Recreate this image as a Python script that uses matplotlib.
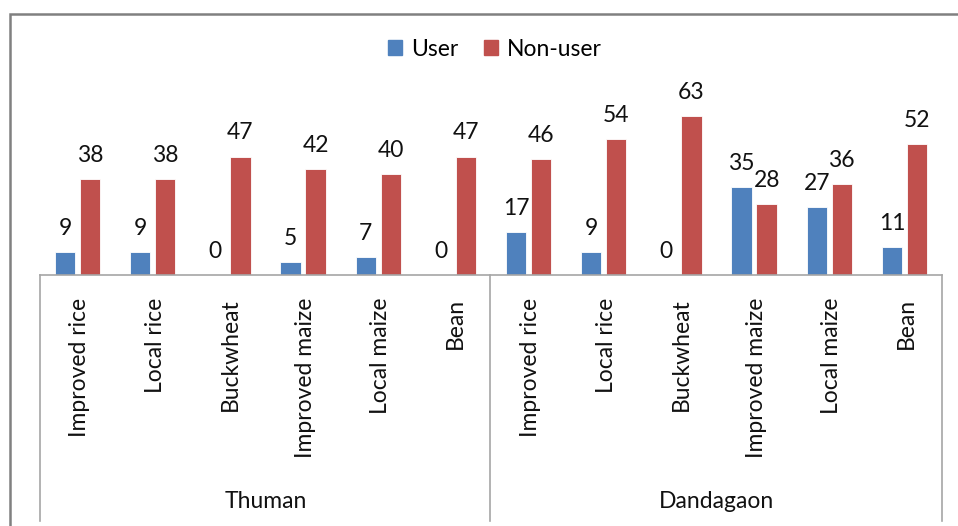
import numpy as np
import matplotlib.pyplot as plt
import matplotlib.transforms as mtransforms
from matplotlib.lines import Line2D
from matplotlib.patches import Rectangle, Patch

# data
villages = ["Thuman", "Dandagaon"]
crops = ["Improved rice", "Local rice", "Buckwheat", "Improved maize", "Local maize", "Bean"]
user = [9, 9, 0, 5, 7, 0, 17, 9, 0, 35, 27, 11]
non_user = [38, 38, 47, 42, 40, 47, 46, 54, 63, 28, 36, 52]

BLUE = "#4F81BD"
RED = "#C0504D"
FS = 16.5
TXT = "#111111"

W, H = 958, 526
plt.rcParams['font.family'] = ["Lato", "DejaVu Sans"]

fig = plt.figure(figsize=(W / 100, H / 100), dpi=100)


def fx(px):
    return px / W


def fy(py):
    return 1 - py / H


# plot area in pixels
left, right, base = 40, 942, 275
ymax = 70
ppu = 2.52
top = base - ymax * ppu
ax = fig.add_axes([fx(left), fy(base), fx(right - left), (base - top) / H])

n = len(user)
x = np.arange(n)
bw = 0.27
off = 0.167
ax.bar(x - off, user, width=bw, color=BLUE, edgecolor="white", linewidth=0.6)
ax.bar(x + off, non_user, width=bw, color=RED, edgecolor="white", linewidth=0.6)
ax.set_xlim(-0.5, n - 0.5)
ax.set_ylim(0, ymax)
ax.axis("off")

for xs, vals in ((x - off, user), (x + off, non_user)):
    for xi, v in zip(xs, vals):
        ax.annotate(str(v), (xi, v), xytext=(0, 17), textcoords="offset points",
                    ha="center", va="center", fontsize=FS, color=TXT)

trans = mtransforms.blended_transform_factory(ax.transData, fig.transFigure)

# category labels (rotated)
labels = crops * len(villages)
for xi, lab in zip(x, labels):
    ax.text(xi + 0.03, fy(298), lab, rotation=90, ha="center", va="top",
            fontsize=FS, color=TXT, transform=trans)

# group labels
for g, v in enumerate(villages):
    xc = g * len(crops) + (len(crops) - 1) / 2
    ax.text(xc, fy(501), v, ha="center", va="center", fontsize=FS, color=TXT,
            transform=trans)

# multi-level axis box
gray = "#A6A6A6"
fig.add_artist(Line2D([fx(left), fx(right)], [fy(base), fy(base)], color=gray, lw=1.2))
for px in (left, 490, right):
    fig.add_artist(Line2D([fx(px), fx(px)], [fy(base), fy(521)], color=gray, lw=1.2))

# chart border (cropped at right and bottom)
fig.add_artist(Rectangle((fx(10), fy(540)), fx(960), (540 - 14) / H, fill=False,
                         edgecolor="#808080", lw=1.8, transform=fig.transFigure))

# legend
handles = [Patch(color=BLUE, label="User"), Patch(color=RED, label="Non-user")]
fig.legend(handles=handles, loc="center", bbox_to_anchor=(fx(495), fy(49)), ncol=2,
           frameon=False, fontsize=FS, handlelength=0.6, handleheight=0.6,
           handletextpad=0.4, columnspacing=1.1)

fig.savefig("out.png", dpi=100)
